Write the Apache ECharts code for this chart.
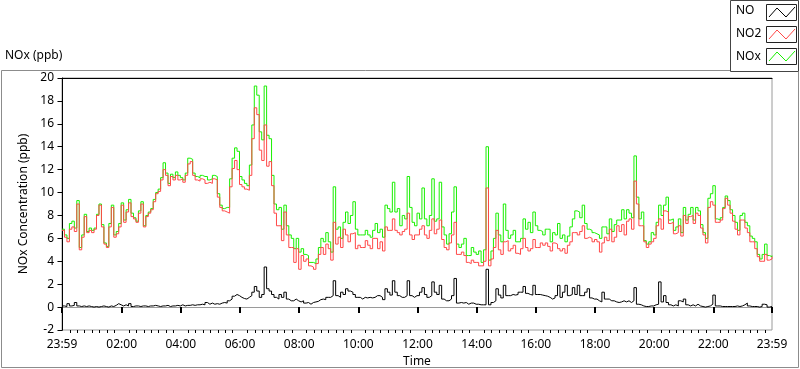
<!DOCTYPE html>
<html><head><meta charset="utf-8">
<script src="https://cdn.jsdelivr.net/npm/echarts@6/dist/echarts.min.js"></script>
<style>html,body{margin:0;padding:0;background:#fff}#c{width:800px;height:369px}</style>
</head><body><div id="c"></div>
<script>
// Time stamps: minutes after midnight, one sample every 5 min from 23:59 to 23:59
const startMinute = -1;
const stepMinutes = 5;

const seriesNames = ['NO', 'NO2', 'NOx'];
const yTickValues = [-2, 0, 2, 4, 6, 8, 10, 12, 14, 16, 18, 20];
const xTickValues = [-1, 120, 240, 360, 480, 600, 720, 840, 960, 1080, 1200, 1320, 1439];
const xTickLabels = ['23:59', '02:00', '04:00', '06:00', '08:00', '10:00', '12:00', '14:00', '16:00', '18:00', '20:00', '22:00', '23:59'];

const no2 = [
  6.7,6.1,5.7,6.8,7.0,6.6,9.0,5.0,6.1,7.9,6.5,6.7,6.5,6.8,8.0,8.9,7.0,5.5,5.2,7.0,8.7,6.1,6.4,7.0,8.9,7.4,8.3,9.1,7.9,7.7,7.4,8.2,9.0,7.0,7.9,8.2,8.5,9.2,9.9,10.1,11.1,12.0,11.5,10.6,11.4,11.1,11.5,11.1,11.2,10.9,11.5,12.5,12.7,11.5,11.1,11.0,11.2,11.1,
  10.8,10.9,10.8,11.2,11.1,9.6,8.7,8.4,8.3,8.2,10.5,12.1,12.8,12.0,10.7,10.5,10.3,10.2,11.5,14.7,17.4,16.8,13.7,12.8,15.9,12.3,12.7,10.6,8.2,7.1,7.1,5.8,8.3,6.3,5.2,5.2,3.9,5.1,3.3,4.5,4.0,4.2,3.6,3.5,3.3,3.8,4.6,5.2,4.6,5.5,5.1,4.1,7.4,5.5,6.1,5.2,6.8,6.3,
  5.7,6.4,6.5,5.1,5.4,5.2,5.2,5.8,5.4,5.1,6.0,6.0,5.1,5.7,4.9,7.0,6.7,6.7,7.7,6.7,6.5,6.3,6.6,6.8,8.2,6.3,5.9,6.3,6.3,6.8,7.1,6.3,6.0,6.7,7.7,6.4,6.8,7.6,5.9,5.2,5.0,5.6,6.3,7.4,4.6,4.6,4.8,4.5,3.9,3.8,4.1,3.9,3.9,3.6,3.6,4.0,10.4,
  3.6,4.2,5.2,6.7,5.0,4.6,5.7,5.8,4.9,5.1,5.4,4.7,4.6,5.1,6.0,5.2,4.9,5.1,5.9,5.2,5.2,5.6,5.4,5.6,5.3,4.9,5.6,5.5,5.1,4.9,5.1,4.7,5.4,5.7,6.5,6.5,6.3,6.6,7.1,6.0,6.1,6.0,5.7,5.9,5.7,4.8,5.6,6.1,5.8,6.8,5.7,6.1,7.1,6.6,7.2,6.3,7.5,7.7,
  6.8,11.0,9.0,7.1,7.1,5.7,5.2,5.5,5.7,6.0,7.1,7.7,6.8,8.4,8.3,7.3,7.4,6.4,6.5,7.1,6.2,8.0,7.3,7.9,8.0,7.3,8.2,8.0,6.9,6.3,5.6,8.7,9.2,8.9,7.4,7.4,7.6,8.6,9.5,8.9,8.2,7.5,6.8,6.3,7.6,7.6,6.9,6.5,5.7,5.7,5.1,4.4,4.0,4.0,4.6,4.1,4.2,4.4
];

const nox = [
  6.8,6.3,6.0,7.3,7.5,6.9,9.3,5.2,6.3,8.1,6.6,6.9,6.7,6.9,8.1,9.0,7.2,5.6,5.3,7.3,8.9,6.3,6.6,7.3,9.1,7.6,8.5,9.4,8.2,7.8,7.5,8.4,9.2,7.1,8.0,8.3,8.6,9.4,10.0,10.3,11.3,12.6,11.7,10.8,11.6,11.3,11.8,11.5,11.3,11.1,11.7,13.0,12.9,11.7,11.4,11.3,11.5,11.4,
  11.4,11.1,11.2,11.5,11.4,9.9,8.9,8.6,8.7,8.7,11.2,13.0,13.9,13.6,11.4,11.1,10.8,10.6,12.4,15.9,19.3,18.5,15.3,14.6,19.3,15.0,14.7,11.5,9.0,8.5,8.7,6.8,8.9,7.1,6.3,6.0,5.1,6.0,4.8,5.1,4.6,4.5,3.9,3.9,3.8,4.2,5.2,6.0,5.7,6.5,5.7,4.8,10.5,6.8,7.0,6.0,7.4,8.3,
  7.3,8.0,9.2,6.8,6.3,6.3,6.3,6.7,6.3,6.1,6.7,7.3,6.5,6.8,6.1,8.9,8.6,8.3,10.9,8.3,8.6,7.1,8.0,7.7,11.4,8.7,7.4,7.1,8.2,7.7,10.4,7.7,7.1,8.0,11.2,7.5,7.7,10.9,7.0,6.3,5.5,6.4,8.3,10.5,5.5,5.2,5.5,6.0,4.5,4.5,5.2,4.8,4.6,4.9,3.9,5.0,14.0,
  4.1,4.9,6.0,8.2,6.3,5.7,9.0,6.7,6.0,6.3,6.7,5.7,5.7,6.0,7.7,6.8,7.4,6.5,8.3,7.1,6.7,6.6,6.3,6.8,6.8,5.7,6.5,6.3,7.3,6.0,6.3,5.7,6.2,7.0,7.7,8.4,8.3,7.8,8.9,7.3,6.8,6.7,6.5,6.4,6.3,6.0,7.0,7.0,6.4,7.7,6.6,7.2,7.6,7.6,8.5,7.7,8.5,8.2,
  7.8,13.2,9.6,7.7,8.3,5.8,5.5,5.7,6.5,6.3,7.4,8.9,8.0,8.9,9.6,7.6,7.7,6.7,7.0,7.7,6.5,8.7,7.6,8.1,8.7,7.6,8.7,8.4,7.2,6.5,6.0,9.5,9.9,10.6,7.7,7.6,7.8,8.7,9.7,9.3,8.5,8.0,7.4,6.7,8.0,8.2,7.4,7.1,6.2,6.0,5.7,4.6,4.2,4.6,5.5,4.5,4.4,4.5
];

const no = [
  0.1,0.05,0.3,0.1,0.15,0.4,0.1,0.05,0.1,0.05,0.1,0.05,0.0,0.05,0.0,0.05,0.1,0.05,0.0,0.1,0.05,0.15,0.3,0.2,0.1,0.2,0.1,0.3,0.05,0.1,0.1,0.05,0.1,0.1,0.05,0.1,0.1,0.15,0.1,0.05,0.1,0.1,0.15,0.05,0.1,0.1,0.15,0.1,0.2,0.1,0.15,0.15,0.2,0.15,0.2,0.2,0.25,0.2,
  0.4,0.25,0.35,0.25,0.3,0.25,0.35,0.4,0.35,0.55,0.7,0.95,1.1,1.0,0.85,0.75,0.7,0.85,1.0,1.3,1.8,1.4,0.85,1.1,3.5,1.6,1.4,1.1,0.85,0.7,1.1,0.85,1.3,0.7,0.55,0.55,0.7,0.55,0.45,0.55,0.35,0.4,0.25,0.4,0.45,0.5,0.65,0.7,0.65,0.85,0.85,1.0,2.3,1.0,0.85,1.3,1.1,1.6,
  1.4,1.3,1.1,0.85,0.85,0.7,0.85,0.8,0.85,0.8,0.85,1.0,1.0,0.85,0.65,1.6,1.3,1.05,2.3,1.3,1.0,0.85,0.85,1.0,2.3,1.0,0.85,1.0,1.0,1.3,1.7,1.1,0.85,1.0,2.2,1.3,1.1,1.9,0.7,0.55,0.55,0.7,1.0,2.5,0.35,0.4,0.35,0.4,0.25,0.35,0.35,0.25,0.25,0.2,0.2,0.2,3.3,
  0.2,0.4,0.55,1.6,1.05,0.8,1.9,1.0,1.0,1.1,1.05,1.1,1.3,1.3,1.8,1.2,1.1,1.05,1.9,1.1,1.1,1.05,1.0,0.95,0.85,0.7,0.8,1.0,1.9,0.85,1.3,1.9,1.0,1.1,1.7,1.1,1.9,1.0,1.0,1.3,1.6,0.8,0.7,0.7,0.55,0.45,1.3,0.7,0.7,0.55,0.55,0.45,0.4,0.45,0.55,0.45,0.55,0.4,
  0.55,1.7,0.25,0.2,0.1,0.05,0.05,0.1,0.1,0.2,0.25,2.2,0.45,1.0,0.4,0.2,0.1,0.2,0.1,0.55,0.45,0.7,0.2,0.1,0.2,0.1,0.25,0.1,0.05,0.0,0.05,0.1,0.25,1.05,0.1,0.1,0.05,0.05,0.05,0.05,0.05,0.05,0.1,0.05,0.1,0.2,0.35,0.1,0.05,0.05,0.05,0.0,0.05,0.25,0.2,0.0,0.05,0.0
];

const colors = { NO: '#000000', NO2: '#ff4848', NOx: '#19f000' };
const FONT = 'Noto Sans';

function pairs(arr) { return arr.map((v, i) => [startMinute + i * stepMinutes, v]); }
const minorTicks = [];
for (let m = 15; m < 1439; m += 15) { if (m % 120 !== 0) minorTicks.push(m); }

const chart = echarts.init(document.getElementById('c'), null, { renderer: 'canvas' });
const grid = { left: 62, top: 78, width: 710, height: 252, show: true, borderColor: '#9a9a9a', borderWidth: 1, backgroundColor: '#fff', containLabel: false, outerBoundsMode: 'none' };

function swatch(y, color) {
  return [
    { type: 'rect', shape: { x: 766.5, y: y + 0.5, width: 30, height: 16 }, style: { fill: '#fff', stroke: '#222', lineWidth: 1 } },
    { type: 'polyline', shape: { points: [[769, y + 13], [777, y + 4], [786, y + 13], [795, y + 3]] }, style: { stroke: color, fill: null, lineWidth: 1 } }
  ];
}

chart.setOption({
  animation: false,
  backgroundColor: '#fff',
  grid: grid,
  xAxis: [
    { type: 'value', min: -1, max: 1439, position: 'bottom',
      axisLine: { show: true, lineStyle: { color: '#9a9a9a', width: 1 } },
      axisTick: { show: true, customValues: xTickValues, length: 6, lineStyle: { color: '#000', width: 2 } },
      axisLabel: { customValues: xTickValues, formatter: (v) => xTickLabels[xTickValues.indexOf(v)] || '', color: '#000', fontFamily: FONT, fontSize: 12, margin: 9, showMinLabel: true, showMaxLabel: true, hideOverlap: false },
      splitLine: { show: false },
      name: 'Time', nameLocation: 'middle', nameGap: 24, nameTextStyle: { color: '#000', fontFamily: FONT, fontSize: 12 } },
    { type: 'value', min: -1, max: 1439, position: 'bottom',
      axisLine: { show: false },
      axisTick: { show: true, customValues: minorTicks, length: 3, lineStyle: { color: '#000', width: 1 } },
      axisLabel: { show: false }, splitLine: { show: false } },
    { type: 'value', min: -1, max: 1439, position: 'top',
      axisLine: { show: true, lineStyle: { color: '#000', width: 1 } },
      axisTick: { show: false }, axisLabel: { show: false }, splitLine: { show: false } }
  ],
  yAxis: {
    type: 'value', min: -2, max: 20, interval: 2,
    axisLine: { show: true, lineStyle: { color: '#000', width: 1 } },
    axisTick: { show: true, length: 5, lineStyle: { color: '#000' } },
    axisLabel: { customValues: yTickValues, color: '#000', fontFamily: FONT, fontSize: 12, margin: 8 },
    splitLine: { show: false },
    name: 'NOx Concentration (ppb)', nameLocation: 'middle', nameGap: 28,
    nameTextStyle: { color: '#000', fontFamily: FONT, fontSize: 12 }
  },
  series: [
    { name: 'NOx', type: 'line', data: pairs(nox), step: 'end', symbol: 'none', lineStyle: { color: colors.NOx, width: 1 }, itemStyle: { color: colors.NOx } },
    { name: 'NO2', type: 'line', data: pairs(no2), step: 'end', symbol: 'none', lineStyle: { color: colors.NO2, width: 1 }, itemStyle: { color: colors.NO2 } },
    { name: 'NO', type: 'line', data: pairs(no), step: 'end', symbol: 'none', lineStyle: { color: colors.NO, width: 1 }, itemStyle: { color: colors.NO } }
  ],
  graphic: [
    { type: 'polyline', shape: { points: [[730, 70.5], [1.5, 70.5], [1.5, 367.5], [798.5, 367.5], [798.5, 72]] }, style: { stroke: '#8c8c8c', fill: null, lineWidth: 1 }, z: 1 },
    { type: 'rect', shape: { x: 730.5, y: 0.5, width: 68, height: 71 }, style: { fill: '#fff', stroke: '#444', lineWidth: 1 } },
    { type: 'text', left: 5, top: 50, style: { text: 'NOx (ppb)', fill: '#000', font: '12px "Noto Sans"' } },
    { type: 'text', x: 736, y: 5, style: { text: seriesNames[0], fill: '#000', font: '12px "Noto Sans"' } },
    { type: 'text', x: 736, y: 28, style: { text: seriesNames[1], fill: '#000', font: '12px "Noto Sans"' } },
    { type: 'text', x: 736, y: 51, style: { text: seriesNames[2], fill: '#000', font: '12px "Noto Sans"' } },
    ...swatch(4, colors.NO), ...swatch(26, colors.NO2), ...swatch(48, colors.NOx)
  ]
});
</script></body></html>
